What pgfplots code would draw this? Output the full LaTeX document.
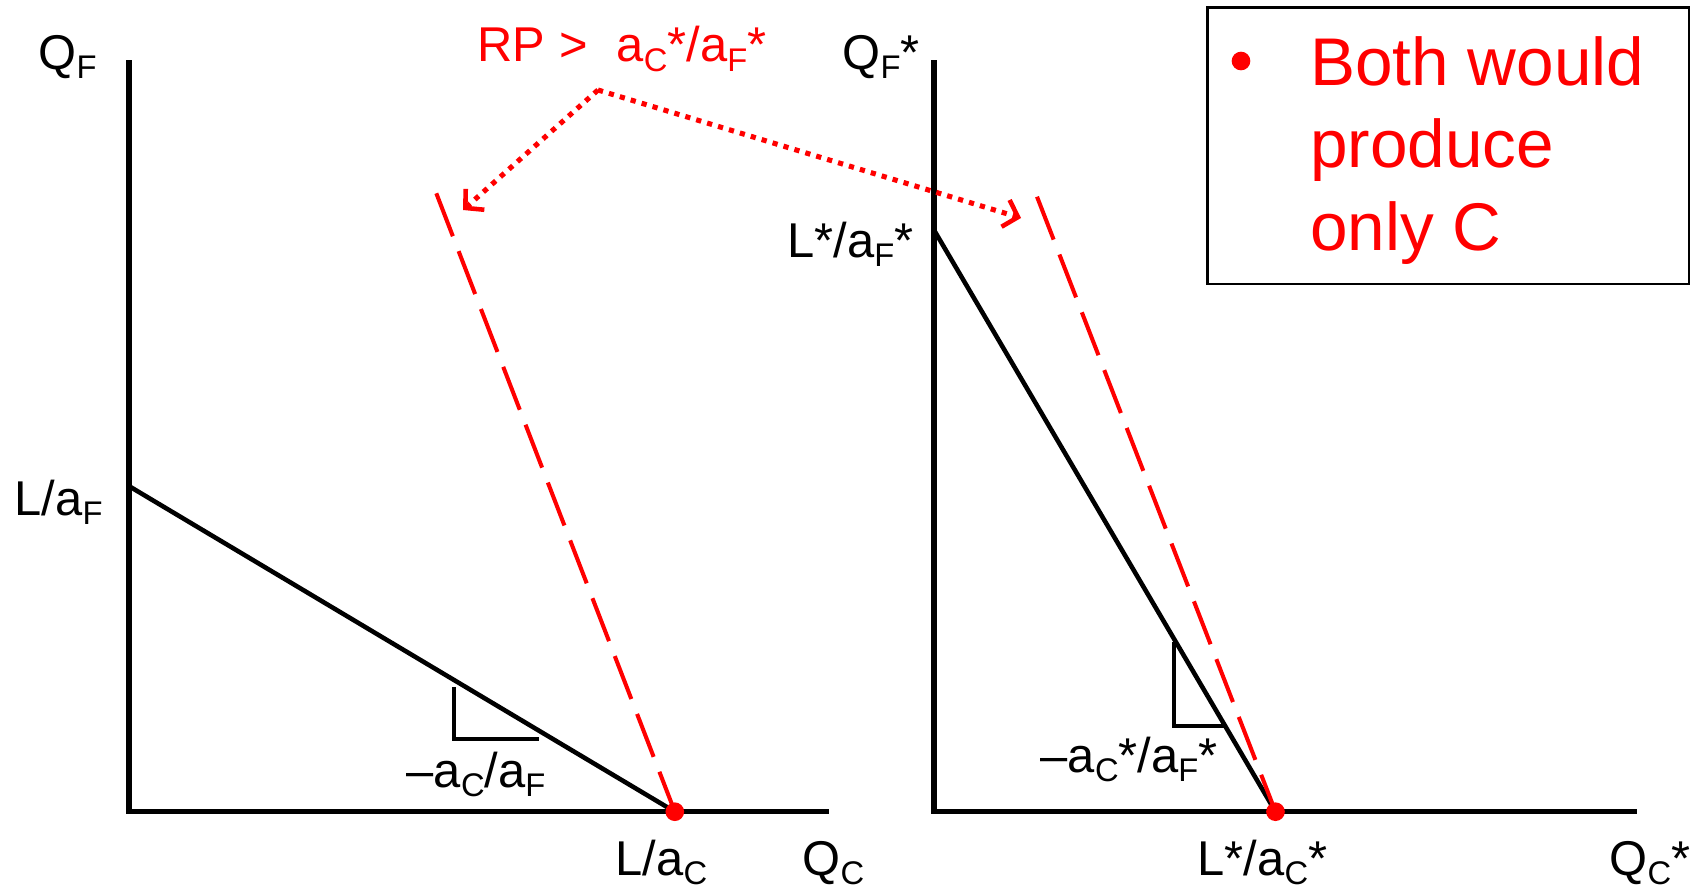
\documentclass[border=0pt]{standalone}
\usepackage{fontspec}
\setmainfont{Liberation Sans}
\usepackage{pgfplots}
\pgfplotsset{compat=1.18}
\usetikzlibrary{arrows.meta}
\newcommand{\sub}[1]{\raisebox{-0.2em}{\scalebox{0.67}{#1}}}
\newcommand{\lab}{\fontsize{13.9pt}{16pt}\selectfont}
\newcommand{\leg}{\fontsize{19.2pt}{23.6pt}\selectfont}
\begin{document}
\begin{tikzpicture}
\begin{axis}[scale only axis, width=169.7mm, height=88.8mm,
  xmin=0, xmax=1697, ymin=0, ymax=888, y dir=reverse,
  hide axis, clip=false]
% axes
\addplot[black, line width=1.45pt, line join=miter] coordinates {(129,60) (129,811.7) (829.3,811.7)};
\addplot[black, line width=1.45pt, line join=miter] coordinates {(934,60) (934,811.7) (1637,811.7)};
% PPFs
\addplot[black, line width=1.3pt] coordinates {(130,486.7) (674.8,811.7)};
\addplot[black, line width=1.3pt] coordinates {(934,230) (1275.5,811.7)};
% slope triangles
\addplot[black, line width=1.2pt, line join=miter] coordinates {(454.2,687.3) (454.2,739.3) (539.3,739.3)};
\addplot[black, line width=1.2pt, line join=miter] coordinates {(1174.1,641.7) (1174.1,726) (1225,726)};
% relative price lines
\addplot[red, line width=1.15pt, dash pattern=on 4.6mm off 1.6mm] coordinates {(436.3,193.3) (674.8,811.7)};
\addplot[red, line width=1.15pt, dash pattern=on 4.6mm off 1.6mm] coordinates {(1037,196.7) (1275.5,811.7)};
% dotted arrows
\addplot[red, line width=1.45pt, dash pattern=on 0.52mm off 0.62mm, -{Straight Barb[length=1.3mm,width=2.8mm,line width=1.3pt]}] coordinates {(598,90) (463,210)};
\addplot[red, line width=1.45pt, dash pattern=on 0.52mm off 0.62mm, -{Straight Barb[length=1.3mm,width=2.8mm,line width=1.3pt]}] coordinates {(598,90) (1021,218)};
% dots
\addplot[only marks, mark=*, red, mark size=2.45pt] coordinates {(674.8,811.7) (1275.5,811.7) (1241,61)};
% legend box
\draw[black, line width=0.7pt] (axis cs:1207.7,7.3) rectangle (axis cs:1689,284);
\node[anchor=base west, inner sep=0, font=\leg, text=red] at (axis cs:1309.6,85) {Both would};
\node[anchor=base west, inner sep=0, font=\leg, text=red] at (axis cs:1309.6,167) {produce};
\node[anchor=base west, inner sep=0, font=\leg, text=red] at (axis cs:1309.6,250) {only C};
% labels
\node[anchor=base west, inner sep=0, font=\lab] at (axis cs:38,69) {Q\sub{F}};
\node[anchor=base west, inner sep=0, font=\lab, text=red] at (axis cs:477,61.7) {RP >};
\node[anchor=base west, inner sep=0, font=\lab, text=red] at (axis cs:616,61.7) {a\sub{C}*/a\sub{F}*};
\node[anchor=base west, inner sep=0, font=\lab] at (axis cs:842,69) {Q\sub{F}*};
\node[anchor=base east, inner sep=0, font=\lab] at (axis cs:914,257) {L*/a\sub{F}*};
\node[anchor=base west, inner sep=0, font=\lab] at (axis cs:14,515) {L/a\sub{F}};
\node[anchor=base west, inner sep=0, font=\lab] at (axis cs:406,787) {–a\sub{C}/a\sub{F}};
\node[anchor=base west, inner sep=0, font=\lab] at (axis cs:615,875) {L/a\sub{C}};
\node[anchor=base west, inner sep=0, font=\lab] at (axis cs:802,875) {Q\sub{C}};
\node[anchor=base west, inner sep=0, font=\lab] at (axis cs:1040,772) {–a\sub{C}*/a\sub{F}*};
\node[anchor=base west, inner sep=0, font=\lab] at (axis cs:1197,875) {L*/a\sub{C}*};
\node[anchor=base west, inner sep=0, font=\lab] at (axis cs:1609,875) {Q\sub{C}*};
\end{axis}
\pgfresetboundingbox
\useasboundingbox (current axis.south west) rectangle (current axis.north east);
\end{tikzpicture}
\end{document}
